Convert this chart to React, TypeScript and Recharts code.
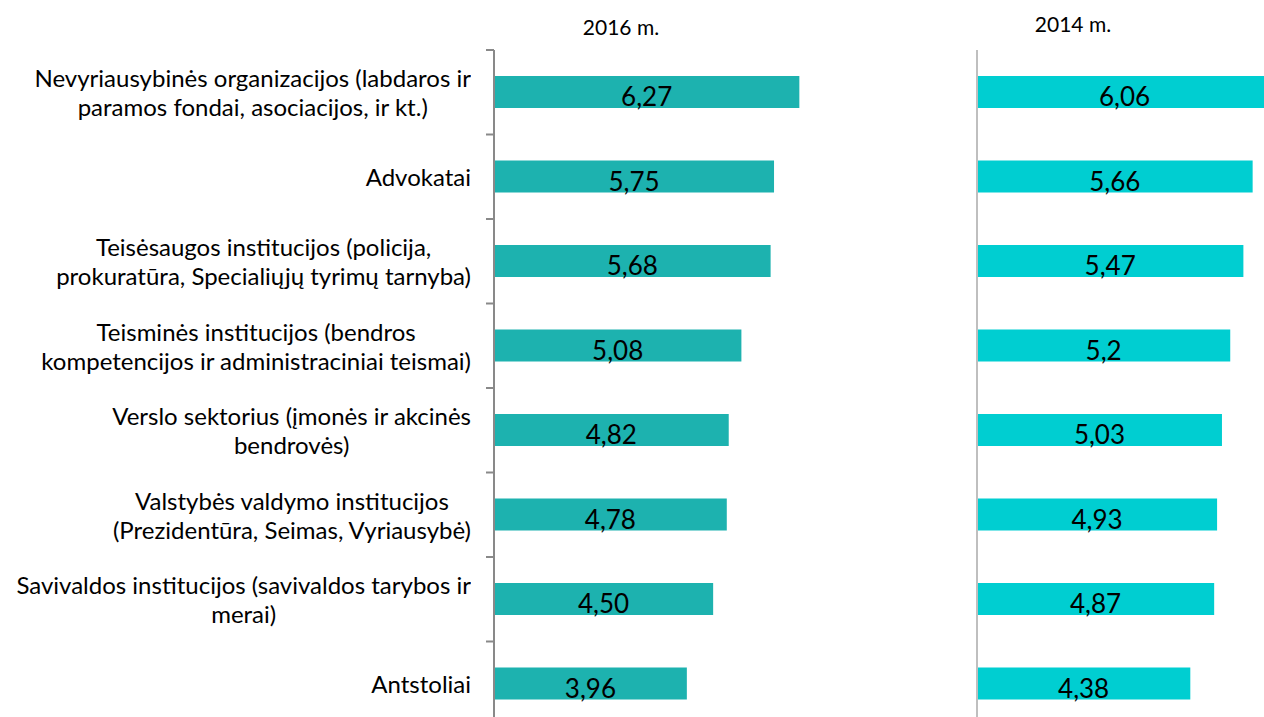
import React from 'react';
import { BarChart, Bar, XAxis, YAxis, LabelList } from 'recharts';

const categories = [
  'Nevyriausybinės organizacijos (labdaros ir\nparamos fondai, asociacijos, ir kt.)',
  'Advokatai',
  'Teisėsaugos institucijos (policija,\nprokuratūra, Specialiųjų tyrimų tarnyba)',
  'Teisminės institucijos (bendros\nkompetencijos ir administraciniai teismai)',
  'Verslo sektorius (įmonės ir akcinės\nbendrovės)',
  'Valstybės valdymo institucijos\n(Prezidentūra, Seimas, Vyriausybė)',
  'Savivaldos institucijos (savivaldos tarybos ir\nmerai)',
  'Antstoliai',
];
const values2016 = [6.27, 5.75, 5.68, 5.08, 4.82, 4.78, 4.5, 3.96];
const values2014 = [6.06, 5.66, 5.47, 5.2, 5.03, 4.93, 4.87, 4.38];
const titles = ['2016 m.', '2014 m.'];

const data = categories.map((name, i) => ({ name, v2016: values2016[i], v2014: values2014[i] }));

const FONT = 'Lato, "Open Sans", sans-serif';
const TOP = 50;
const BAND = 84.5;
const CHART_H = TOP + BAND * categories.length;
const AXIS_LEFT = 494;
const RIGHT_OFFSET = 877;
const RIGHT_YW = 100;
const PLOT_W = 487;

// category label block: lines centred on each other, block right-aligned to the axis
const CategoryTick = ({ y, payload, index }: any) => {
  const top = y - BAND / 2;
  return (
    <g>
      <line x1={AXIS_LEFT - 8} x2={AXIS_LEFT} y1={top} y2={top} stroke="#898989" strokeWidth={2} />
      {index === categories.length - 1 && (
        <line x1={AXIS_LEFT - 8} x2={AXIS_LEFT} y1={top + BAND} y2={top + BAND} stroke="#898989" strokeWidth={2} />
      )}
      <foreignObject x={0} y={top} width={471} height={BAND}>
        <div style={{ width: 471, height: BAND, display: 'flex', alignItems: 'center', justifyContent: 'flex-end' }}>
          <div style={{ textAlign: 'center', whiteSpace: 'pre', fontFamily: FONT, fontSize: 24, lineHeight: '29px', color: '#000' }}>
            {payload.value}
          </div>
        </div>
      </foreignObject>
    </g>
  );
};

const fmt2016 = (v: any) => Number(v).toFixed(2).replace('.', ',');
const fmt2014 = (v: any) => String(v).replace('.', ',');

export default function App() {
  return (
    <div style={{ position: 'absolute', left: 0, top: 0, width: 1264, height: 717, overflow: 'hidden', background: '#fff', fontFamily: FONT }}>
      <div style={{ position: 'absolute', left: 521, width: 200, top: 14, textAlign: 'center', fontSize: 21, color: '#000' }}>{titles[0]}</div>
      <div style={{ position: 'absolute', left: 973, width: 200, top: 11, textAlign: 'center', fontSize: 21, color: '#000' }}>{titles[1]}</div>

      <div style={{ position: 'absolute', left: 0, top: 0 }}>
        <BarChart width={AXIS_LEFT + PLOT_W} height={CHART_H} data={data} layout="vertical"
          margin={{ top: TOP, right: 0, bottom: 0, left: 0 }}>
          <XAxis type="number" domain={[0, 10]} hide />
          <YAxis type="category" dataKey="name" width={AXIS_LEFT} axisLine={{ stroke: '#898989', strokeWidth: 2 }}
            tickLine={false} tick={(p: any) => <CategoryTick {...p} />} interval={0} />
          <Bar dataKey="v2016" fill="#1DB2AF" barSize={32} isAnimationActive={false}>
            <LabelList dataKey="v2016" position="center" formatter={fmt2016} fill="#000"
              style={{ fontFamily: FONT, fontSize: 26 }} dy={5} />
          </Bar>
        </BarChart>
      </div>

      <div style={{ position: 'absolute', left: RIGHT_OFFSET, top: 0 }}>
        <BarChart width={RIGHT_YW + PLOT_W} height={CHART_H} data={data} layout="vertical"
          margin={{ top: TOP, right: 0, bottom: 0, left: 0 }}>
          <XAxis type="number" domain={[0, 10]} hide />
          <YAxis type="category" dataKey="name" width={RIGHT_YW} axisLine={{ stroke: '#BFBFBF', strokeWidth: 2 }}
            tickLine={false} tick={false} />
          <Bar dataKey="v2014" fill="#00CED1" barSize={32} isAnimationActive={false}>
            <LabelList dataKey="v2014" position="center" formatter={fmt2014} fill="#000"
              style={{ fontFamily: FONT, fontSize: 26 }} dy={5} />
          </Bar>
        </BarChart>
      </div>
    </div>
  );
}
